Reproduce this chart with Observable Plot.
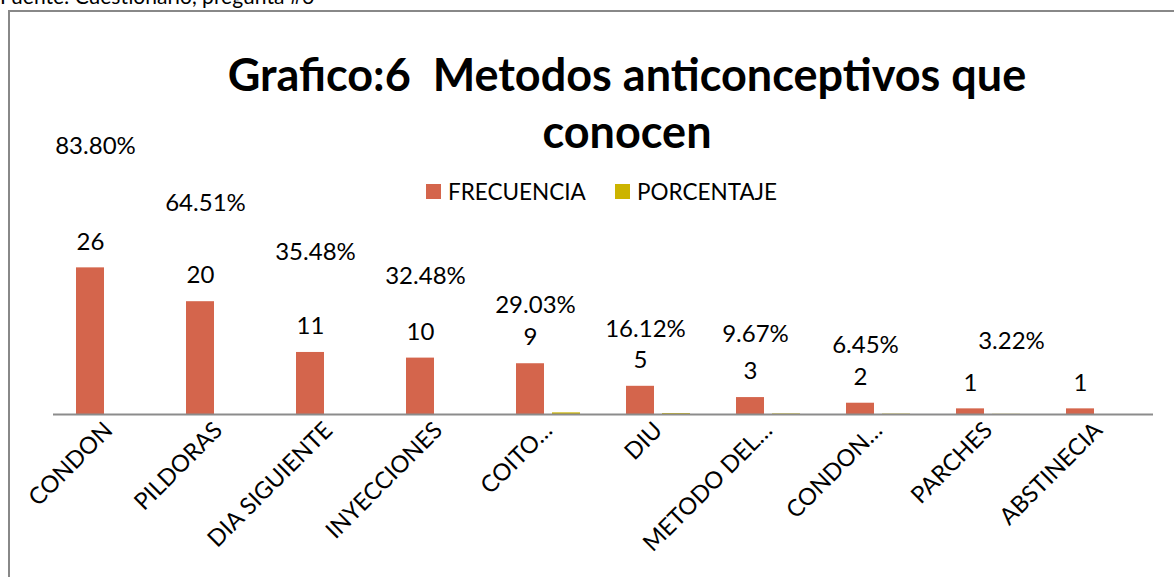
<!DOCTYPE html>
<html>
<head>
<meta charset="utf-8">
<script src="https://cdn.jsdelivr.net/npm/d3@7"></script>
<script src="https://cdn.jsdelivr.net/npm/@observablehq/plot@0.6"></script>
<style>
  html, body { margin: 0; padding: 0; background: #fff; }
  #wrap { position: relative; width: 1174px; height: 577px; overflow: hidden; font-family: Lato, "Open Sans", sans-serif; color: #000; }
  #source { position: absolute; left: 0; top: -15px; font-size: 21px; line-height: 21px; white-space: nowrap; }
  #frame { position: absolute; left: 8px; top: 10px; width: 1200px; height: 620px; border: 2px solid #888; box-sizing: border-box; }
  #chart { position: absolute; left: 0; top: 0; }
  #title { position: absolute; left: 80px; width: 1094px; top: 46px; text-align: center; font-weight: bold; font-size: 45px; line-height: 57px; }
  .leg { position: absolute; top: 180px; height: 23px; display: flex; align-items: center; font-size: 22.5px; line-height: 23px; white-space: nowrap; }
  .leg span.sw { display: inline-block; width: 15px; height: 15px; margin-right: 7px; }
</style>
</head>
<body>
<div id="wrap">
  <div id="frame"></div>
  <div id="source"></div>
  <div id="chart"></div>
  <div id="title"></div>
  <div id="legend"></div>
</div>
<script>
// ---- data ----
const fuente = "Fuente: Cuestionario, pregunta #6";
const titulo = ["Grafico:6\u00a0 Metodos anticonceptivos que", "conocen"];
const categorias = ["CONDON", "PILDORAS", "DIA SIGUIENTE", "INYECCIONES", "COITO…", "DIU", "METODO DEL…", "CONDON…", "PARCHES", "ABSTINECIA"];
const series = ["FRECUENCIA", "PORCENTAJE"];
const frecuencia = [26, 20, 11, 10, 9, 5, 3, 2, 1, 1];
const porcentajeEtiqueta = ["83.80%", "64.51%", "35.48%", "32.48%", "29.03%", "16.12%", "9.67%", "6.45%", "3.22%", null];
// heights of the PORCENTAJE bars as drawn in the picture (fractions; first cells plotted as 0)
const porcentajeBarra = [0, 0, 0, 0, 0.2903, 0.1612, 0.0967, 0.0645, 0.0322, 0];

// ---- layout / style (manual label placement, in y-scale units) ----
const colores = ["#D4654C", "#CCB400"];
const alturaEtiquetaPct = [47.5, 37.5, 28.7, 24.5, 19.3, 15.15, 14.27, 12.3, 12.9, null];
const anclaEtiquetaPct = ["FRECUENCIA", "FRECUENCIA", "FRECUENCIA", "FRECUENCIA", "FRECUENCIA", "FRECUENCIA", "FRECUENCIA", "FRECUENCIA", "PORCENTAJE", "FRECUENCIA"];

document.getElementById("source").textContent = fuente;
document.getElementById("title").innerHTML = titulo.join("<br>");

const legend = document.getElementById("legend");
const legLeft = [426, 615];
series.forEach((s, i) => {
  const d = document.createElement("div");
  d.className = "leg";
  d.style.left = legLeft[i] + "px";
  const sw = document.createElement("span");
  sw.className = "sw";
  sw.style.background = colores[i];
  d.appendChild(sw);
  d.appendChild(document.createTextNode(s));
  legend.appendChild(d);
});

const barras = categorias.flatMap((c, i) => [
  {cat: c, serie: series[0], valor: frecuencia[i]},
  {cat: c, serie: series[1], valor: porcentajeBarra[i]}
]);
const etiquetasFrec = categorias.map((c, i) => ({cat: c, serie: series[0], valor: frecuencia[i]}));
const etiquetasPct = categorias
  .map((c, i) => ({cat: c, serie: anclaEtiquetaPct[i], y: alturaEtiquetaPct[i], texto: porcentajeEtiqueta[i]}))
  .filter(d => d.texto != null);

const chart = Plot.plot({
  width: 1174,
  height: 577,
  marginLeft: 52,
  marginRight: 20,
  marginTop: 132,
  marginBottom: 163,
  style: {fontFamily: "Lato, 'Open Sans', sans-serif", fontSize: "23.5px", color: "#000", background: "transparent", overflow: "visible"},
  fx: {domain: categorias, padding: 0, label: null, axis: "bottom", tickRotate: -45, tickSize: 0, tickPadding: 12},
  x: {domain: series, paddingInner: 0.216, paddingOuter: 0.597, axis: null},
  y: {domain: [0, 50], axis: null},
  color: {domain: series, range: colores},
  marks: [
    Plot.barY(barras, {fx: "cat", x: "serie", y: "valor", fill: "serie"}),
    Plot.ruleY([0], {stroke: "#8C8C8C", strokeWidth: 2}),
    Plot.text(etiquetasFrec, {fx: "cat", x: "serie", y: "valor", text: d => String(d.valor), dy: -26, fontSize: 24, fill: "#000"}),
    Plot.text(etiquetasPct, {fx: "cat", x: "serie", y: "y", text: "texto", dx: 5, fontSize: 24, fill: "#000"})
  ]
});
document.getElementById("chart").appendChild(chart);
</script>
</body>
</html>
